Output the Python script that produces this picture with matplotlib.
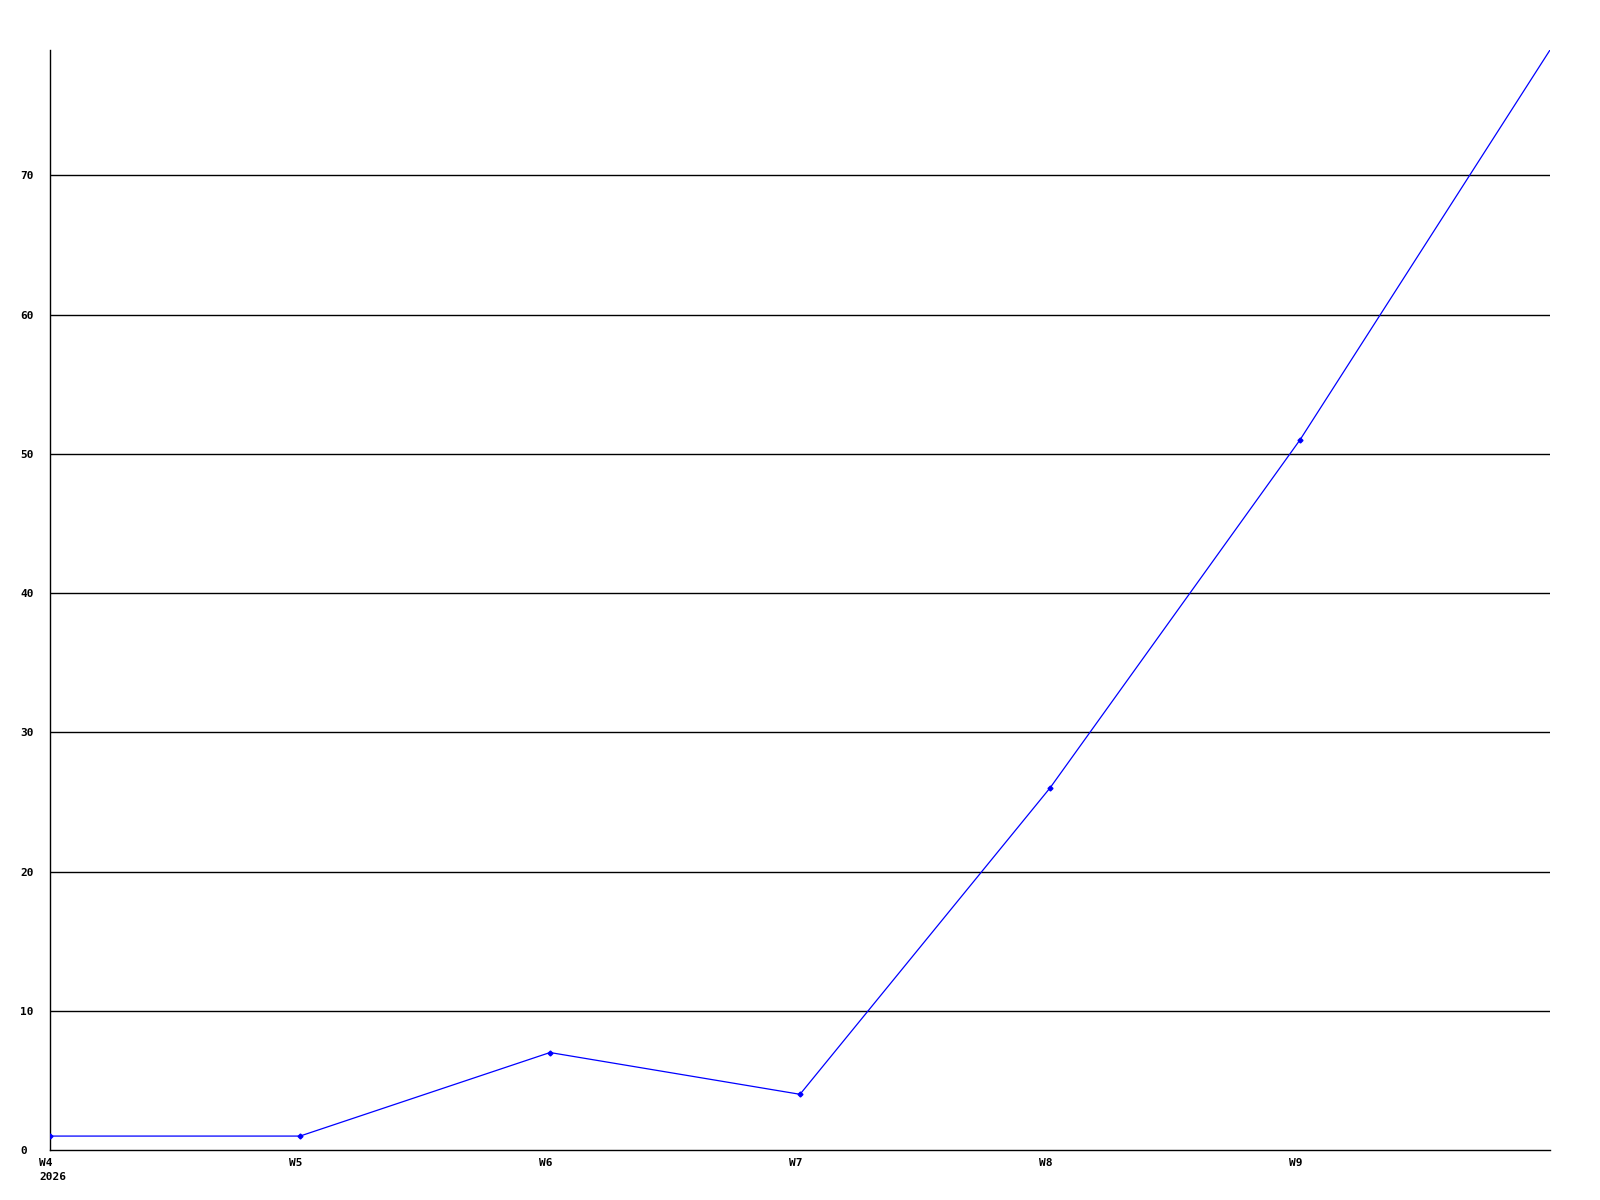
import matplotlib
matplotlib.use("Agg")
import matplotlib.pyplot as plt
import matplotlib.transforms as mtransforms

# ---- data ----
weeks = ["W4", "W5", "W6", "W7", "W8", "W9", "W10"]
tick_labels = ["W4\n2026", "W5", "W6", "W7", "W8", "W9"]
values = [1, 1, 7, 4, 26, 51, 79]
y_ticks = [0, 10, 20, 30, 40, 50, 60, 70]

fig = plt.figure(figsize=(16, 12), dpi=100)
ax = fig.add_axes([50 / 1600, 50 / 1200, 1500 / 1600, 1100 / 1200])

x = list(range(len(weeks)))
ax.plot(x, values, color="#0000ff", lw=0.9, marker="D", markersize=2.5,
        markevery=list(range(len(weeks) - 1)), zorder=3)

ax.set_xlim(0, len(weeks) - 1)
ax.set_ylim(0, 79)

# grid lines (black, no line at zero - the axis is there)
for yv in y_ticks[1:]:
    ax.axhline(yv, color="black", lw=1.0, zorder=1)

for side in ["top", "right"]:
    ax.spines[side].set_visible(False)
for side in ["left", "bottom"]:
    ax.spines[side].set_linewidth(1.0)
    ax.spines[side].set_color("black")

ax.set_xticks(x[:-1])
ax.set_xticklabels(tick_labels, fontfamily="DejaVu Sans Mono", fontweight="bold",
                   fontsize=8, ha="left", linespacing=1.45)
ax.set_yticks(y_ticks)
ax.set_yticklabels([str(v) for v in y_ticks], fontfamily="DejaVu Sans Mono",
                   fontweight="bold", fontsize=8, ha="left")
ax.tick_params(axis="x", length=0, pad=6)
ax.tick_params(axis="y", length=0, pad=21.6)

# shift x labels a little left of their tick
shift = mtransforms.ScaledTranslation(-11 / 100, 0, fig.dpi_scale_trans)
for lbl in ax.get_xticklabels():
    lbl.set_transform(lbl.get_transform() + shift)

fig.savefig("out.png", dpi=100)
